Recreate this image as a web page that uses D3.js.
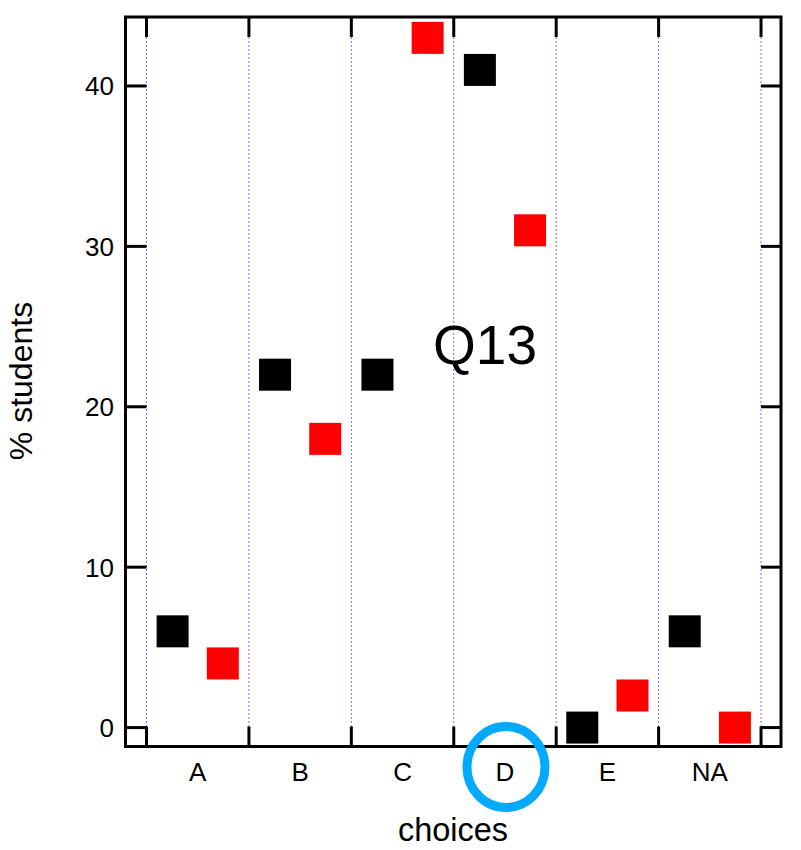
<!DOCTYPE html>
<html>
<head>
<meta charset="utf-8">
<script src="https://cdn.jsdelivr.net/npm/d3@7"></script>
<style>
  body { margin: 0; background: #fff; }
  svg { display: block; font-family: "Liberation Sans", Arial, Helvetica, sans-serif; }
</style>
</head>
<body>
<svg id="chart" width="801" height="850"></svg>
<script>
// ---- data ----
const categories = ["A", "B", "C", "D", "E", "NA"];
const seriesBlack = [6, 22, 22, 41, 0, 6];
const seriesRed = [4, 18, 43, 31, 2, 0];
const yTicks = [0, 10, 20, 30, 40];
const title = "Q13";
const xLabel = "choices";
const yLabel = "% students";
const circledCategory = "D";

// ---- layout ----
const frame = { left: 125.5, right: 781, top: 17, bottom: 746.5 };
const svg = d3.select("#chart");

// x: gridlines at integer positions 0..6, categories centered at i+0.5
const x = d3.scaleLinear().domain([-0.205, 6.195]).range([frame.left, frame.right]);
const y = d3.scaleLinear().domain([-1.18, 44.3]).range([frame.bottom, frame.top]);

const g = svg.append("g");

// vertical dotted gridlines
const gridPos = d3.range(0, categories.length + 1);
g.selectAll("line.grid").data(gridPos).join("line")
  .attr("class", "grid")
  .attr("x1", d => x(d)).attr("x2", d => x(d))
  .attr("y1", frame.top).attr("y2", frame.bottom)
  .attr("stroke", "#6f6fff").attr("stroke-width", 1)
  .attr("stroke-dasharray", "2,2");

// markers
const sq = 32;
const off = 0.245;
function drawSeries(vals, color, dx) {
  g.selectAll(null).data(vals).join("rect")
    .attr("x", (d, i) => x(i + 0.5 + dx) - sq / 2)
    .attr("y", d => y(d) - sq / 2)
    .attr("width", sq).attr("height", sq)
    .attr("fill", color);
}
drawSeries(seriesBlack, "#000000", -off);
drawSeries(seriesRed, "#ff0000", off);

// ticks: x ticks on top & bottom at gridlines (inward)
const tickLen = 20;
g.selectAll(null).data(gridPos).join("line")
  .attr("x1", d => x(d)).attr("x2", d => x(d))
  .attr("y1", frame.bottom).attr("y2", frame.bottom - tickLen)
  .attr("stroke", "#000").attr("stroke-width", 3);
g.selectAll(null).data(gridPos).join("line")
  .attr("x1", d => x(d)).attr("x2", d => x(d))
  .attr("y1", frame.top).attr("y2", frame.top + tickLen)
  .attr("stroke", "#000").attr("stroke-width", 3);

// y ticks left & right
g.selectAll(null).data(yTicks).join("line")
  .attr("x1", frame.left).attr("x2", x(0))
  .attr("y1", d => y(d)).attr("y2", d => y(d))
  .attr("stroke", "#000").attr("stroke-width", 3);
g.selectAll(null).data(yTicks).join("line")
  .attr("x1", frame.right).attr("x2", x(6))
  .attr("y1", d => y(d)).attr("y2", d => y(d))
  .attr("stroke", "#000").attr("stroke-width", 3);

// frame
g.append("rect")
  .attr("x", frame.left).attr("y", frame.top)
  .attr("width", frame.right - frame.left).attr("height", frame.bottom - frame.top)
  .attr("fill", "none").attr("stroke", "#000").attr("stroke-width", 3);

// y tick labels
g.selectAll(null).data(yTicks).join("text")
  .attr("x", 114).attr("y", d => y(d))
  .attr("dy", "0.36em")
  .attr("text-anchor", "end")
  .attr("font-size", 26)
  .text(d => d);

// x tick labels
g.selectAll(null).data(categories).join("text")
  .attr("x", (d, i) => x(i + 0.5))
  .attr("y", 781)
  .attr("text-anchor", "middle")
  .attr("font-size", 26)
  .text(d => d);

// circle highlight
const ci = categories.indexOf(circledCategory);
g.append("ellipse")
  .attr("cx", x(ci + 0.5) + 1).attr("cy", 767)
  .attr("rx", 39).attr("ry", 40.5)
  .attr("fill", "none").attr("stroke", "#00aaff").attr("stroke-width", 9);

// axis labels
g.append("text")
  .attr("x", 453).attr("y", 841)
  .attr("text-anchor", "middle")
  .attr("font-size", 32.5)
  .text(xLabel);
g.append("text")
  .attr("transform", "translate(32,381) rotate(-90)")
  .attr("text-anchor", "middle")
  .attr("font-size", 32)
  .text(yLabel);

// title
g.append("text")
  .attr("x", 485).attr("y", 364)
  .attr("text-anchor", "middle")
  .attr("font-size", 55)
  .text(title);
</script>
</body>
</html>
